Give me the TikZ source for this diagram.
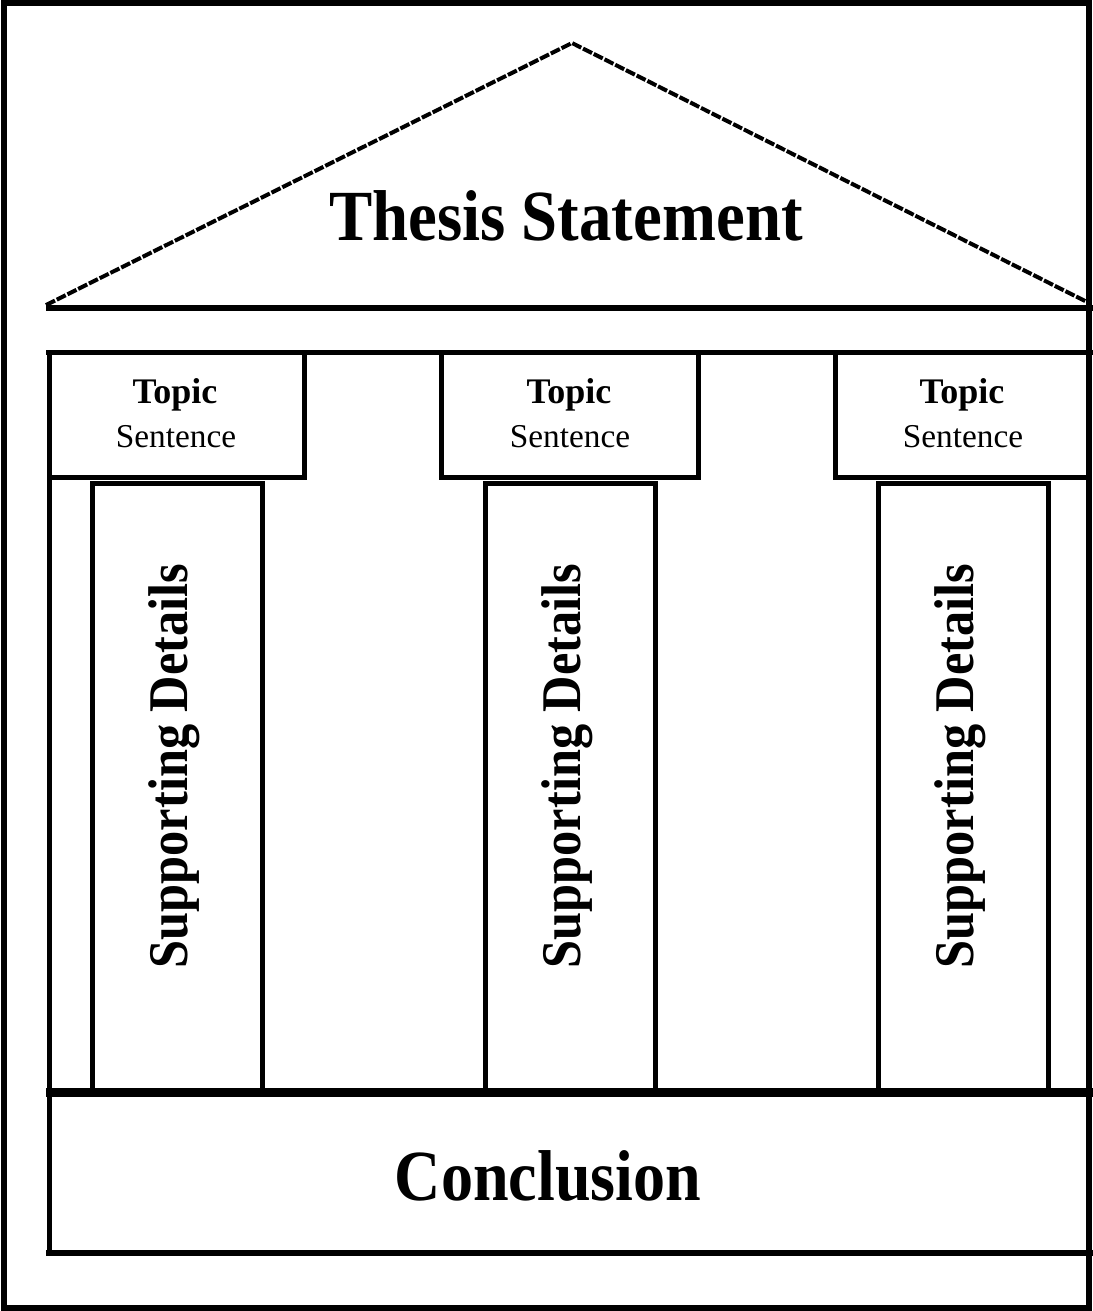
\documentclass[tikz,border=0pt]{standalone}
\usepackage{fontspec}
\setmainfont{Liberation Serif}
\begin{document}
\begin{tikzpicture}[x=0.75pt, y=-0.75pt,
    wall/.style={line width=3.75pt},
    roofline/.style={line width=3pt, dash pattern=on 7.5pt off 1.5pt},
    bigtext/.style={font=\fontsize{54}{60}\selectfont\bfseries, inner sep=0pt, anchor=base},
    topictext/.style={font=\fontsize{27}{30}\selectfont\bfseries, inner sep=0pt, anchor=base},
    senttext/.style={font=\fontsize{25}{28}\selectfont, inner sep=0pt, anchor=base},
    pillartext/.style={font=\fontsize{42}{46}\selectfont\bfseries, inner sep=0pt, anchor=base, rotate=90}]
    % Размеры картинки
    \useasboundingbox (0,0) rectangle (1093,1311);

    % Координаты
    \coordinate (L) at (46,305);    % левый угол крыши
    \coordinate (T) at (572,43);    % вершина крыши
    \coordinate (R) at (1089,303);  % правый угол крыши

    % Внешняя рамка
    \draw[wall, line width=4.5pt] (4,3) rectangle (1089,1308);

    % Крыша
    \draw[wall, line width=4.5pt] (46,308) -- (1093,308);
    \draw[roofline] (L) -- (T) -- (R);
    \node[bigtext] (thesis) at (566,240) {\scalebox{0.9}[1]{Thesis Statement}};

    % Верхняя линия и блоки тем
    \draw[wall] (46,352) -- (1093,352);
    \draw[wall] (49,352) -- (49,1253);
    \draw[wall] (49,477) -- (304,477) -- (304,352);
    \draw[wall] (441,352) -- (441,477) -- (698,477) -- (698,352);
    \draw[wall] (835,352) -- (835,477) -- (1089,477);

    % Подписи блоков
    \node[topictext] (topicA) at (175,403) {Topic};
    \node[senttext] (sentA) at (176,447) {Sentence};
    \node[topictext] (topicB) at (569,403) {Topic};
    \node[senttext] (sentB) at (570,447) {Sentence};
    \node[topictext] (topicC) at (962,403) {Topic};
    \node[senttext] (sentC) at (963,447) {Sentence};

    % Колонны
    \draw[wall] (92,1090) -- (92,483) -- (262,483) -- (262,1090);
    \draw[wall] (485,1090) -- (485,483) -- (655,483) -- (655,1090);
    \draw[wall] (878,1090) -- (878,483) -- (1048,483) -- (1048,1090);
    \node[pillartext] (detailsA) at (187,766) {\scalebox{0.9}[1]{Supporting Details}};
    \node[pillartext] (detailsB) at (580,766) {\scalebox{0.9}[1]{Supporting Details}};
    \node[pillartext] (detailsC) at (973,766) {\scalebox{0.9}[1]{Supporting Details}};

    % Основание (заключение)
    \draw[wall, line width=6.75pt] (46,1092) -- (1093,1092);
    \draw[wall, line width=4.5pt] (46,1253) -- (1093,1253);
    \node[bigtext] (concl) at (548,1200) {\scalebox{0.89}[1]{Conclusion}};

\end{tikzpicture}
\end{document}
